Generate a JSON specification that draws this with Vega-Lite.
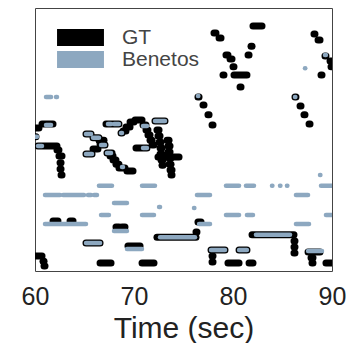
{
"$schema": "https://vega.github.io/schema/vega-lite/v6.json",
"width": 297, "height": 263,
"autosize": {"type": "none"},
"padding": {"left": 35, "top": 8, "right": 14, "bottom": 72},
"background": "white",
"config": {"view": {"stroke": "#444", "strokeWidth": 1}, "font": "Liberation Sans"},
"data": {"values": [
{"source":"GT","onset":82.02,"offset":82.93,"pitch":94.5},
{"source":"GT","onset":78.08,"offset":78.28,"pitch":92.4},
{"source":"GT","onset":78.59,"offset":78.79,"pitch":90.9},
{"source":"GT","onset":81.82,"offset":81.92,"pitch":88.4},
{"source":"GT","onset":81.52,"offset":81.62,"pitch":85.7},
{"source":"GT","onset":79.29,"offset":79.49,"pitch":85.7},
{"source":"GT","onset":79.70,"offset":79.90,"pitch":84.5},
{"source":"GT","onset":80.00,"offset":80.10,"pitch":82.1},
{"source":"GT","onset":78.99,"offset":79.09,"pitch":79.6},
{"source":"GT","onset":80.10,"offset":81.41,"pitch":79.6},
{"source":"GT","onset":80.71,"offset":80.81,"pitch":76.0},
{"source":"GT","onset":76.46,"offset":76.57,"pitch":72.9},
{"source":"GT","onset":76.97,"offset":77.07,"pitch":70.5},
{"source":"GT","onset":77.47,"offset":77.58,"pitch":67.5},
{"source":"GT","onset":77.88,"offset":77.98,"pitch":64.4},
{"source":"GT","onset":88.18,"offset":88.28,"pitch":92.1},
{"source":"GT","onset":88.59,"offset":88.79,"pitch":90.3},
{"source":"GT","onset":89.29,"offset":89.39,"pitch":85.4},
{"source":"GT","onset":89.80,"offset":89.90,"pitch":83.9},
{"source":"GT","onset":89.90,"offset":90.00,"pitch":82.1},
{"source":"GT","onset":88.89,"offset":88.99,"pitch":79.6},
{"source":"GT","onset":86.26,"offset":86.36,"pitch":72.9},
{"source":"GT","onset":86.77,"offset":86.87,"pitch":70.2},
{"source":"GT","onset":87.17,"offset":87.27,"pitch":67.5},
{"source":"GT","onset":87.68,"offset":87.78,"pitch":64.7},
{"source":"GT","onset":60.00,"offset":60.40,"pitch":63.5},
{"source":"GT","onset":60.71,"offset":61.82,"pitch":64.7},
{"source":"GT","onset":60.00,"offset":60.10,"pitch":60.8},
{"source":"GT","onset":60.30,"offset":62.22,"pitch":58.0},
{"source":"GT","onset":62.22,"offset":62.42,"pitch":56.8},
{"source":"GT","onset":62.42,"offset":62.73,"pitch":55.0},
{"source":"GT","onset":62.53,"offset":62.63,"pitch":52.9},
{"source":"GT","onset":62.53,"offset":62.63,"pitch":51.0},
{"source":"GT","onset":62.63,"offset":62.73,"pitch":49.2},
{"source":"GT","onset":65.15,"offset":65.66,"pitch":61.7},
{"source":"GT","onset":65.86,"offset":66.46,"pitch":60.5},
{"source":"GT","onset":66.46,"offset":66.97,"pitch":59.8},
{"source":"GT","onset":66.57,"offset":66.97,"pitch":58.6},
{"source":"GT","onset":65.86,"offset":66.36,"pitch":57.1},
{"source":"GT","onset":66.67,"offset":67.07,"pitch":58.3},
{"source":"GT","onset":65.15,"offset":65.76,"pitch":55.6},
{"source":"GT","onset":67.27,"offset":67.78,"pitch":55.9},
{"source":"GT","onset":67.58,"offset":67.88,"pitch":55.0},
{"source":"GT","onset":67.88,"offset":68.18,"pitch":53.8},
{"source":"GT","onset":68.18,"offset":68.48,"pitch":52.5},
{"source":"GT","onset":68.48,"offset":69.09,"pitch":51.3},
{"source":"GT","onset":69.29,"offset":69.90,"pitch":50.4},
{"source":"GT","onset":67.17,"offset":68.48,"pitch":64.7},
{"source":"GT","onset":68.69,"offset":68.79,"pitch":62.0},
{"source":"GT","onset":68.89,"offset":69.19,"pitch":62.6},
{"source":"GT","onset":69.19,"offset":69.60,"pitch":63.8},
{"source":"GT","onset":69.60,"offset":70.00,"pitch":65.3},
{"source":"GT","onset":70.10,"offset":70.81,"pitch":65.9},
{"source":"GT","onset":70.91,"offset":71.21,"pitch":64.4},
{"source":"GT","onset":71.21,"offset":71.41,"pitch":62.9},
{"source":"GT","onset":71.41,"offset":71.62,"pitch":61.4},
{"source":"GT","onset":71.62,"offset":71.82,"pitch":59.8},
{"source":"GT","onset":71.82,"offset":72.02,"pitch":58.3},
{"source":"GT","onset":70.20,"offset":71.31,"pitch":57.4},
{"source":"GT","onset":72.12,"offset":73.13,"pitch":65.6},
{"source":"GT","onset":72.32,"offset":72.53,"pitch":62.9},
{"source":"GT","onset":72.42,"offset":72.63,"pitch":61.1},
{"source":"GT","onset":72.53,"offset":72.73,"pitch":59.2},
{"source":"GT","onset":72.63,"offset":72.83,"pitch":57.4},
{"source":"GT","onset":72.63,"offset":72.83,"pitch":55.6},
{"source":"GT","onset":72.73,"offset":72.93,"pitch":53.8},
{"source":"GT","onset":72.83,"offset":72.93,"pitch":52.2},
{"source":"GT","onset":73.33,"offset":73.54,"pitch":59.8},
{"source":"GT","onset":73.43,"offset":73.64,"pitch":58.0},
{"source":"GT","onset":73.43,"offset":73.64,"pitch":56.2},
{"source":"GT","onset":73.54,"offset":73.74,"pitch":54.4},
{"source":"GT","onset":73.54,"offset":73.74,"pitch":52.5},
{"source":"GT","onset":73.64,"offset":73.84,"pitch":50.7},
{"source":"GT","onset":73.74,"offset":73.84,"pitch":49.2},
{"source":"GT","onset":72.42,"offset":74.55,"pitch":54.7},
{"source":"GT","onset":61.82,"offset":62.32,"pitch":35.2},
{"source":"GT","onset":63.54,"offset":63.84,"pitch":35.2},
{"source":"GT","onset":68.18,"offset":68.48,"pitch":33.4},
{"source":"GT","onset":68.79,"offset":69.09,"pitch":33.4},
{"source":"GT","onset":72.32,"offset":76.26,"pitch":30.3},
{"source":"GT","onset":76.26,"offset":76.36,"pitch":31.9},
{"source":"GT","onset":65.15,"offset":66.57,"pitch":28.5},
{"source":"GT","onset":69.39,"offset":70.61,"pitch":27.6},
{"source":"GT","onset":60.10,"offset":60.71,"pitch":24.6},
{"source":"GT","onset":60.81,"offset":60.91,"pitch":23.0},
{"source":"GT","onset":60.91,"offset":61.01,"pitch":21.5},
{"source":"GT","onset":66.57,"offset":67.68,"pitch":22.4},
{"source":"GT","onset":70.81,"offset":72.02,"pitch":22.4},
{"source":"GT","onset":76.46,"offset":76.77,"pitch":34.9},
{"source":"GT","onset":81.92,"offset":86.16,"pitch":31.0},
{"source":"GT","onset":86.16,"offset":86.26,"pitch":29.1},
{"source":"GT","onset":86.16,"offset":86.26,"pitch":27.3},
{"source":"GT","onset":86.16,"offset":86.26,"pitch":25.5},
{"source":"GT","onset":77.78,"offset":79.19,"pitch":26.4},
{"source":"GT","onset":77.88,"offset":77.98,"pitch":24.6},
{"source":"GT","onset":77.88,"offset":77.98,"pitch":22.7},
{"source":"GT","onset":80.61,"offset":81.41,"pitch":26.4},
{"source":"GT","onset":79.49,"offset":80.61,"pitch":22.4},
{"source":"GT","onset":81.62,"offset":82.02,"pitch":22.4},
{"source":"GT","onset":87.58,"offset":88.79,"pitch":25.8},
{"source":"GT","onset":87.88,"offset":88.08,"pitch":24.0},
{"source":"GT","onset":87.98,"offset":88.08,"pitch":22.4},
{"source":"GT","onset":89.39,"offset":90.00,"pitch":22.4},
{"source":"Benetos","onset":76.46,"offset":76.50,"pitch":73.2},
{"source":"Benetos","onset":86.26,"offset":86.30,"pitch":72.9},
{"source":"Benetos","onset":89.29,"offset":89.39,"pitch":85.7},
{"source":"Benetos","onset":87.27,"offset":87.30,"pitch":81.7},
{"source":"Benetos","onset":61.11,"offset":61.62,"pitch":72.9},
{"source":"Benetos","onset":62.12,"offset":62.22,"pitch":72.9},
{"source":"Benetos","onset":61.11,"offset":61.62,"pitch":64.4},
{"source":"Benetos","onset":60.00,"offset":60.20,"pitch":60.8},
{"source":"Benetos","onset":60.30,"offset":60.71,"pitch":58.0},
{"source":"Benetos","onset":65.15,"offset":65.66,"pitch":61.7},
{"source":"Benetos","onset":65.86,"offset":66.46,"pitch":60.5},
{"source":"Benetos","onset":66.67,"offset":67.07,"pitch":58.3},
{"source":"Benetos","onset":65.15,"offset":65.76,"pitch":55.6},
{"source":"Benetos","onset":67.27,"offset":67.68,"pitch":55.9},
{"source":"Benetos","onset":68.79,"offset":68.89,"pitch":51.6},
{"source":"Benetos","onset":68.69,"offset":68.79,"pitch":62.0},
{"source":"Benetos","onset":67.37,"offset":67.68,"pitch":64.7},
{"source":"Benetos","onset":67.98,"offset":68.48,"pitch":64.7},
{"source":"Benetos","onset":70.91,"offset":71.31,"pitch":64.1},
{"source":"Benetos","onset":72.12,"offset":73.13,"pitch":65.6},
{"source":"Benetos","onset":70.91,"offset":71.31,"pitch":57.4},
{"source":"Benetos","onset":61.01,"offset":62.53,"pitch":43.1},
{"source":"Benetos","onset":62.83,"offset":64.95,"pitch":43.1},
{"source":"Benetos","onset":65.35,"offset":65.66,"pitch":43.1},
{"source":"Benetos","onset":65.96,"offset":66.26,"pitch":43.1},
{"source":"Benetos","onset":66.46,"offset":67.78,"pitch":45.9},
{"source":"Benetos","onset":70.81,"offset":72.12,"pitch":45.9},
{"source":"Benetos","onset":79.29,"offset":80.61,"pitch":45.9},
{"source":"Benetos","onset":81.31,"offset":82.12,"pitch":45.9},
{"source":"Benetos","onset":83.94,"offset":83.98,"pitch":45.9},
{"source":"Benetos","onset":84.75,"offset":84.79,"pitch":45.9},
{"source":"Benetos","onset":85.45,"offset":85.49,"pitch":45.9},
{"source":"Benetos","onset":88.89,"offset":90.00,"pitch":45.9},
{"source":"Benetos","onset":76.36,"offset":77.68,"pitch":43.1},
{"source":"Benetos","onset":86.36,"offset":87.58,"pitch":43.1},
{"source":"Benetos","onset":67.98,"offset":69.29,"pitch":40.7},
{"source":"Benetos","onset":72.53,"offset":72.63,"pitch":39.5},
{"source":"Benetos","onset":76.06,"offset":76.10,"pitch":39.2},
{"source":"Benetos","onset":88.79,"offset":88.83,"pitch":49.2},
{"source":"Benetos","onset":66.67,"offset":67.47,"pitch":37.0},
{"source":"Benetos","onset":70.81,"offset":72.02,"pitch":37.0},
{"source":"Benetos","onset":79.29,"offset":80.61,"pitch":37.0},
{"source":"Benetos","onset":81.41,"offset":82.02,"pitch":37.0},
{"source":"Benetos","onset":89.39,"offset":90.00,"pitch":37.0},
{"source":"Benetos","onset":61.01,"offset":65.15,"pitch":34.3},
{"source":"Benetos","onset":76.57,"offset":77.68,"pitch":34.3},
{"source":"Benetos","onset":86.36,"offset":87.68,"pitch":34.3},
{"source":"Benetos","onset":67.98,"offset":69.29,"pitch":32.2},
{"source":"Benetos","onset":72.63,"offset":76.16,"pitch":30.3},
{"source":"Benetos","onset":65.15,"offset":66.57,"pitch":28.5},
{"source":"Benetos","onset":69.29,"offset":70.81,"pitch":26.7},
{"source":"Benetos","onset":82.32,"offset":85.76,"pitch":31.0},
{"source":"Benetos","onset":77.78,"offset":79.19,"pitch":26.4},
{"source":"Benetos","onset":80.61,"offset":81.41,"pitch":26.4},
{"source":"Benetos","onset":87.58,"offset":88.99,"pitch":26.1}
]},
"encoding": {
  "x": {"field": "onset", "type": "quantitative",
        "scale": {"domain": [60, 90], "nice": false, "zero": false},
        "axis": {"values": [60, 70, 80, 90], "title": "Time (sec)", "ticks": false, "domain": false, "grid": false,
                 "labelFontSize": 25, "labelColor": "#222", "labelPadding": 13, "labelFlush": false, "labelOverlap": false,
                 "titleFontSize": 30, "titleColor": "#222", "titleFontWeight": "normal", "titlePadding": 4,
                 "labelFont": "Liberation Sans", "titleFont": "Liberation Sans"}},
  "x2": {"field": "offset"},
  "y": {"field": "pitch", "type": "quantitative", "scale": {"domain": [20, 100], "zero": false, "nice": false}, "axis": null},
  "color": {"field": "source", "type": "nominal",
            "scale": {"domain": ["GT", "Benetos"], "range": ["#000000", "#8da8c0"]},
            "legend": {"orient": "none", "legendX": 35, "legendY": 19, "title": null,
                       "symbolType": "M-2.76,-1H2.76V1H-2.76Z", "symbolSize": 289, "symbolStrokeWidth": 0,
                       "labelFontSize": 21, "labelColor": "#444", "labelOffset": 31, "rowPadding": 0, "padding": 0,
                       "labelFont": "Liberation Sans",
                       "encode": {"symbols": {"update": {"fill": {"scale": "color", "field": "value"}, "stroke": {"value": "transparent"}, "opacity": {"value": 1}}}}}}
},
"layer": [
  {"transform": [{"filter": "datum.source === 'GT'"}],
   "mark": {"type": "rule", "strokeWidth": 7, "strokeCap": "round", "clip": true}},
  {"transform": [{"filter": "datum.source === 'Benetos'"}],
   "mark": {"type": "rule", "strokeWidth": 4.5, "strokeCap": "round", "clip": true}}
]
}
